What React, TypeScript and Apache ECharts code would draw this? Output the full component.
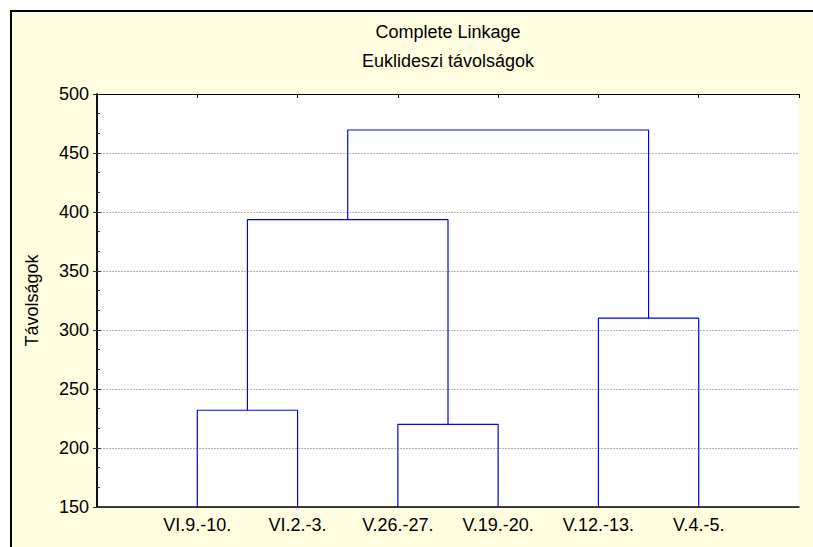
import React, { useEffect, useRef } from "react";
import * as echarts from "echarts";

// Leaves of the dendrogram, in drawing order
const leaves = ["VI.9.-10.", "VI.2.-3.", "V.26.-27.", "V.19.-20.", "V.12.-13.", "V.4.-5."];
// Merges: children are leaf indices (0..5) or cluster ids (6 + merge index)
const mergeLeft = [0, 2, 4, 6, 9];
const mergeRight = [1, 3, 5, 7, 8];
const mergeHeight = [232, 220, 310, 393.5, 469.5];

const yTicks = { min: 150, max: 500, interval: 50 };
const titleLines = ["Complete Linkage", "Euklideszi távolságok"];
const yName = "Távolságok";

const FONT = "'Liberation Sans', Arial, Helvetica, sans-serif";

function buildLinks() {
  const nodeX: number[] = leaves.map((_, i) => i + 1);
  const nodeY: number[] = leaves.map(() => yTicks.min);
  const links: number[][][] = [];
  mergeLeft.forEach((l, k) => {
    const r = mergeRight[k];
    const h = mergeHeight[k];
    links.push([
      [nodeX[l], nodeY[l]],
      [nodeX[l], h],
      [nodeX[r], h],
      [nodeX[r], nodeY[r]],
    ]);
    nodeX.push((nodeX[l] + nodeX[r]) / 2);
    nodeY.push(h);
  });
  return links;
}

export default function App() {
  const ref = useRef<HTMLDivElement>(null);
  useEffect(() => {
    document.body.style.margin = "0";
    const chart = echarts.init(ref.current!, null, { renderer: "svg" });
    const links = buildLinks();
    chart.setOption({
      animation: false,
      backgroundColor: "#FFFDE0",
      textStyle: { fontFamily: FONT },
      grid: {
        left: 97,
        top: 94,
        right: 14,
        bottom: 40,
        show: true,
        backgroundColor: "#ffffff",
        borderWidth: 0,
      },
      graphic: [
        { type: "rect", shape: { x: 0, y: 0, width: 813, height: 10 }, style: { fill: "#ffffff" }, silent: true },
        { type: "rect", shape: { x: 0, y: 0, width: 10, height: 547 }, style: { fill: "#ffffff" }, silent: true },
        {
          type: "rect",
          shape: { x: 11, y: 11, width: 900, height: 700 },
          style: { fill: "none", stroke: "#000", lineWidth: 2 },
          silent: true,
        },
        {
          type: "text",
          x: 448,
          y: 32,
          style: { text: titleLines[0], fontSize: 18, fontFamily: FONT, fill: "#000", textAlign: "center", textVerticalAlign: "middle" },
        },
        {
          type: "text",
          x: 448,
          y: 61,
          style: { text: titleLines[1], fontSize: 18, fontFamily: FONT, fill: "#000", textAlign: "center", textVerticalAlign: "middle" },
        },
      ],
      xAxis: [
        {
          type: "value",
          min: 0,
          max: leaves.length + 1,
          interval: 1,
          position: "bottom",
          axisLine: { show: true, lineStyle: { color: "#000", width: 1.5 } },
          axisTick: { show: false },
          splitLine: { show: false },
          axisLabel: {
            color: "#000",
            fontSize: 18,
            fontFamily: FONT,
            margin: 9,
            formatter: (v: number) => leaves[v - 1] ?? "",
          },
        },
        {
          type: "value",
          min: 0,
          max: leaves.length + 1,
          interval: 1,
          position: "top",
          axisLine: { show: true, lineStyle: { color: "#000", width: 1 } },
          axisTick: { show: true, inside: true, length: 4, lineStyle: { color: "#000" } },
          splitLine: { show: false },
          axisLabel: { show: false },
        },
      ],
      yAxis: [
        {
          type: "value",
          min: yTicks.min,
          max: yTicks.max,
          interval: yTicks.interval,
          position: "left",
          name: yName,
          nameLocation: "middle",
          nameGap: 56,
          nameRotate: 90,
          nameTextStyle: { color: "#000", fontSize: 18, fontFamily: FONT },
          axisLine: { show: true, lineStyle: { color: "#000", width: 1.5 } },
          axisTick: { show: true, inside: true, length: 4, lineStyle: { color: "#333" } },
          minorTick: { show: true, splitNumber: 3, length: 3, lineStyle: { color: "#333" } },
          splitLine: { show: true, lineStyle: { color: "#b4b4b4", type: [2, 1], width: 1 } },
          axisLabel: { color: "#000", fontSize: 18, fontFamily: FONT, margin: 8 },
        },
        {
          type: "value",
          min: yTicks.min,
          max: yTicks.max,
          interval: yTicks.interval,
          position: "right",
          axisLine: { show: true, lineStyle: { color: "#000", width: 1.5 } },
          axisTick: { show: true, inside: true, length: 4, lineStyle: { color: "#333" } },
          splitLine: { show: false },
          axisLabel: { show: false },
        },
      ],
      series: links.map((pts) => ({
        type: "line",
        xAxisIndex: 0,
        yAxisIndex: 0,
        data: pts,
        symbol: "none",
        silent: true,
        lineStyle: { color: "#0000ff", width: 1.2 },
      })),
    });
    return () => chart.dispose();
  }, []);
  return <div ref={ref} style={{ position: "absolute", left: 0, top: 0, width: 813, height: 547 }} />;
}
